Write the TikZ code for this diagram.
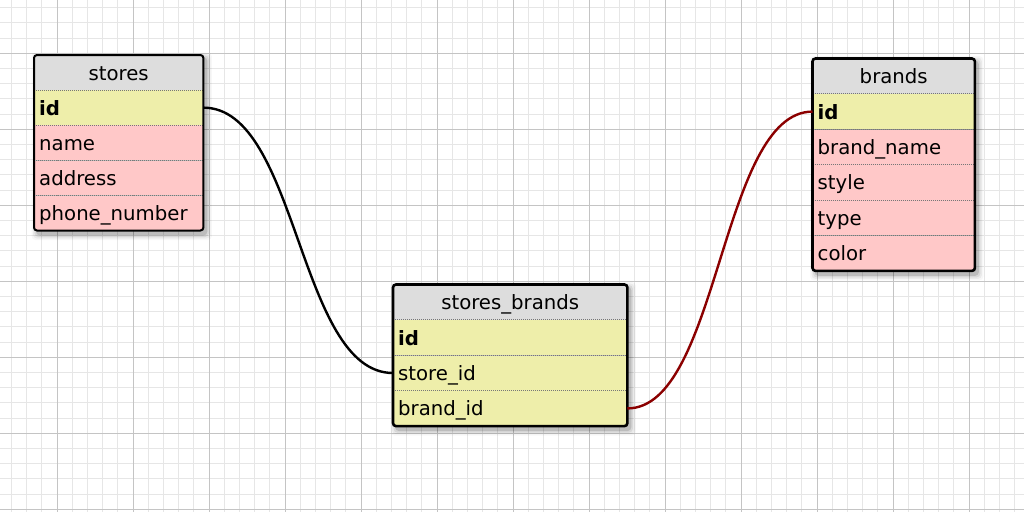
\documentclass[tikz,border=0pt]{standalone}
\usepackage{fontspec}
\setmainfont{DejaVu Sans}
\definecolor{hdrc}{HTML}{DDDDDD}
\definecolor{keyc}{HTML}{EEEEAA}
\definecolor{fldc}{HTML}{FFC8C8}
\definecolor{minorc}{HTML}{E6E6E6}
\definecolor{majorc}{HTML}{C4C4C4}
\definecolor{sepc}{HTML}{777777}
\definecolor{relc}{HTML}{8B0000}
\pgfdeclarelayer{gridlayer}
\pgfdeclarelayer{shadowlayer}
\pgfsetlayers{gridlayer,shadowlayer,main}
\tikzset{
  cell/.style={rectangle, inner xsep=5pt, inner ysep=0pt, minimum height=35pt,
    text height=16pt, text depth=1pt, anchor=north west, align=left,
    font=\fontsize{19.7}{21}\selectfont},
  hcell/.style={cell, fill=hdrc, align=center},
  kcell/.style={cell, fill=keyc},
  fcell/.style={cell, fill=fldc},
  sepline/.style={sepc, line width=0.9pt, dash pattern=on 1pt off 1pt},
  tborder/.style={draw=black, line width=2.6pt, rounded corners=3pt},
  conn/.style={line width=2.4pt},
  minorline/.style={minorc, line width=1pt},
  majorline/.style={majorc, line width=1pt},
}
\newcommand{\tableshadow}[2]{%
  \foreach \s/\o in {0/0.12,1.5/0.08,3/0.05,4.5/0.03}{%
    \fill[black, opacity=\o, rounded corners=4pt]
      ([shift={({2-\s},{2-\s})}]#1.north west) rectangle ([shift={({4+\s},{5+\s})}]#2.south east);}}
\begin{document}
\begin{tikzpicture}[x=1pt,y=-1pt]
\useasboundingbox (0,0) rectangle (1024,512);
\begin{pgfonlayer}{gridlayer}
  \fill[white] (0,0) rectangle (1024,512);
  \foreach \k in {-3,...,63}{\draw[minorline] ({57+15.2*\k},0) -- ({57+15.2*\k},512);}
  \foreach \k in {-3,...,30}{\draw[minorline] (0,{53.3+15.2*\k}) -- (1024,{53.3+15.2*\k});}
  \foreach \k in {0,...,12}{\draw[majorline] ({57+76*\k},0) -- ({57+76*\k},512);}
  \foreach \k in {0,...,6}{\draw[majorline] (0,{53.3+76*\k}) -- (1024,{53.3+76*\k});}
\end{pgfonlayer}

% stores
\node[hcell, text width=159pt, minimum height=34.7pt] (stores-h) at (34,55) {stores};
\node[kcell, text width=159pt, minimum height=34.7pt] (stores-id) at (stores-h.south west) {\bfseries id};
\node[fcell, text width=159pt, minimum height=34.7pt] (stores-name) at (stores-id.south west) {name};
\node[fcell, text width=159pt, minimum height=34.7pt] (stores-address) at (stores-name.south west) {address};
\node[fcell, text width=159pt, minimum height=34.7pt] (stores-phone) at (stores-address.south west) {phone\_number};
\foreach \r in {stores-id,stores-name,stores-address,stores-phone}{\draw[sepline] (\r.north west) -- (\r.north east);}
\draw[tborder, line width=2pt] (stores-h.north west) rectangle (stores-phone.south east);
\begin{pgfonlayer}{shadowlayer}\tableshadow{stores-h}{stores-phone}\end{pgfonlayer}

% brands
\node[hcell, text width=152pt] (brands-h) at (812.5,58.5) {brands};
\node[kcell, text width=152pt] (brands-id) at (brands-h.south west) {\bfseries id};
\node[fcell, text width=152pt] (brands-name) at (brands-id.south west) {brand\_name};
\node[fcell, text width=152pt] (brands-style) at (brands-name.south west) {style};
\node[fcell, text width=152pt] (brands-type) at (brands-style.south west) {type};
\node[fcell, text width=152pt] (brands-color) at (brands-type.south west) {color};
\foreach \r in {brands-id,brands-name,brands-style,brands-type,brands-color}{\draw[sepline] (\r.north west) -- (\r.north east);}
\draw[tborder] (brands-h.north west) rectangle (brands-color.south east);
\begin{pgfonlayer}{shadowlayer}\tableshadow{brands-h}{brands-color}\end{pgfonlayer}

% stores_brands
\node[hcell, text width=224pt] (sb-h) at (393,284.5) {stores\_brands};
\node[kcell, text width=224pt] (sb-id) at (sb-h.south west) {\bfseries id};
\node[kcell, text width=224pt] (sb-store) at (sb-id.south west) {store\_id};
\node[kcell, text width=224pt] (sb-brand) at (sb-store.south west) {brand\_id};
\foreach \r in {sb-id,sb-store,sb-brand}{\draw[sepline] (\r.north west) -- (\r.north east);}
\draw[tborder] (sb-h.north west) rectangle (sb-brand.south east);
\begin{pgfonlayer}{shadowlayer}\tableshadow{sb-h}{sb-brand}\end{pgfonlayer}

% relations
\draw[conn, black] (stores-id.east) .. controls +(95,0) and +(-95,0) .. (sb-store.west);
\draw[conn, relc] (brands-id.west) .. controls +(-92,0) and +(92,0) .. (sb-brand.east);
\end{tikzpicture}
\end{document}
